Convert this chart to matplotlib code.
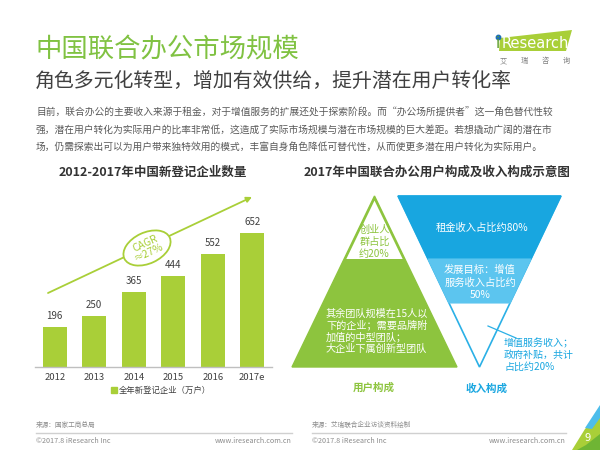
import matplotlib
matplotlib.use("Agg")
import matplotlib.pyplot as plt
from matplotlib.patches import Polygon, Ellipse
import numpy as np

plt.rcParams['font.family'] = ['Noto Sans CJK SC', 'DejaVu Sans']

# ---------------- data ----------------
years = ['2012', '2013', '2014', '2015', '2016', '2017e']
counts = [196, 250, 365, 444, 552, 652]
bar_legend = '全年新登记企业（万户）'
cagr_label = 'CAGR\n≈27%'

title = '中国联合办公市场规模'
subtitle = '角色多元化转型，增加有效供给，提升潜在用户转化率'
para = ['目前，联合办公的主要收入来源于租金，对于增值服务的扩展还处于探索阶段。而“办公场所提供者”这一角色替代性较',
        '强，潜在用户转化为实际用户的比率非常低，这造成了实际市场规模与潜在市场规模的巨大差距。若想撬动广阔的潜在市',
        '场，仍需探索出可以为用户带来独特效用的模式，丰富自身角色降低可替代性，从而使更多潜在用户转化为实际用户。']
left_title = '2012-2017年中国新登记企业数量'
right_title = '2017年中国联合办公用户构成及收入构成示意图'
user_top = ['创业人', '群占比', '约20%']
user_bottom = ['其余团队规模在15人以', '下的企业；需要品牌附', '加值的中型团队；', '大企业下属创新型团队']
rev_top = '租金收入占比约80%'
rev_mid = ['发展目标：增值', '服务收入占比约', '50%']
rev_low = ['增值服务收入；', '政府补贴，共计', '占比约20%']
user_label = '用户构成'
rev_label = '收入构成'
src_left = '来源：国家工商总局'
src_right = '来源：艾瑞联合企业访谈资料绘制'
copyright_txt = '©2017.8 iResearch Inc'
url_txt = 'www.iresearch.com.cn'
logo_cn = ['艾', '瑞', '咨', '询']

LIME = '#A9CF38'
TGREEN = '#80C242'
GREEN = '#8DC43E'
BLUE = '#18A6E0'
LBLUE = '#5CC5EF'
OBLUE = '#2BB0E6'

fig = plt.figure(figsize=(6, 4.5), dpi=100)
bg = fig.add_axes([0, 0, 1, 1])
bg.set_xlim(0, 600)
bg.set_ylim(450, 0)
bg.axis('off')
bg.set_zorder(0)

# ---------------- header ----------------
bg.text(35, 50, title, fontsize=19, color=TGREEN, va='center', ha='left')
bg.text(35, 82, subtitle, fontsize=14.3, color='#404040', va='center', ha='left')
for i, line in enumerate(para):
    bg.text(36, 113 + i * 17, line, fontsize=7, color='#595959', va='center', ha='left')

# logo
bg.add_patch(Polygon([(500, 38), (572, 30), (566, 51), (499, 51)], closed=True,
                     facecolor=LIME, edgecolor='none'))
bg.text(495.5, 43.5, 'i', fontsize=11, color='#5E9E2C', va='center', ha='left', family='DejaVu Sans')
bg.plot([497.6], [36.8], 'o', color='#1F6FB5', markersize=3.2)
bg.text(502, 43.5, 'Research', fontsize=10.5, color='white', va='center', ha='left', family='DejaVu Sans')
for i, ch in enumerate(logo_cn):
    bg.text(503 + i * 21, 61, ch, fontsize=5.2, color='#808080', va='center', ha='center')

# ---------------- left chart ----------------
bg.text(153, 172, left_title, fontsize=9, fontweight='bold', color='#333333', va='center', ha='center')

ax = fig.add_axes([35 / 600, (450 - 367) / 450, 237 / 600, 180 / 450])
ax.set_zorder(1)
ax.patch.set_alpha(0)
x = np.arange(len(years))
bars = ax.bar(x, counts, width=0.61, color=LIME, zorder=2)
ax.set_xlim(-0.5, 5.5)
ax.set_ylim(0, 876)
ax.bar_label(bars, labels=[str(c) for c in counts], padding=4, fontsize=7, color='#404040')
ax.set_xticks(x)
ax.set_xticklabels(years, fontsize=6.8, color='#404040')
ax.tick_params(axis='x', length=0, pad=4.5)
ax.set_yticks([])
for s in ['top', 'left', 'right']:
    ax.spines[s].set_visible(False)
ax.spines['bottom'].set_color('#BFBFBF')
ax.spines['bottom'].set_linewidth(1)

# CAGR arrow + ellipse
ax.annotate('', xy=(252, 197), xytext=(48, 293), xycoords=bg.transData, textcoords=bg.transData,
            arrowprops=dict(arrowstyle='-|>', color=LIME, lw=1.3, mutation_scale=8,
                            shrinkA=0, shrinkB=0), annotation_clip=False)
ax.add_patch(Ellipse((147, 248), 50, 31, angle=-25, facecolor='white', edgecolor=LIME,
                     lw=1.3, transform=bg.transData, clip_on=False, zorder=5))
ax.text(147, 248, cagr_label, transform=bg.transData, fontsize=7.5, color=LIME, rotation=25,
        ha='center', va='center', linespacing=0.95, zorder=6, clip_on=False)

# legend
bg.plot([114], [390], 's', color=LIME, markersize=4)
bg.text(119, 390, bar_legend, fontsize=6, color='#404040', va='center', ha='left')

# ---------------- right chart ----------------
bg.text(437, 172, right_title, fontsize=9, fontweight='bold', color='#333333', va='center', ha='center')

# green pyramid
apx, apy, by = 374.5, 196, 367
hw = 82.5
bg.add_patch(Polygon([(apx, apy), (apx + hw, by), (apx - hw, by)], closed=True,
                     facecolor=GREEN, edgecolor=GREEN, lw=1, zorder=2))
ycut = 259
slope = hw / (by - apy)
d = 2.0
ia = apy + d / np.sin(np.arctan(slope))
ihw = slope * (ycut - apy) - d * np.sqrt(1 + slope ** 2)
bg.add_patch(Polygon([(apx, ia), (apx + ihw, ycut), (apx - ihw, ycut)], closed=True,
                     facecolor='white', edgecolor='none', zorder=3))
for i, line in enumerate(user_top):
    bg.text(apx, 230 + i * 12, line, fontsize=7.3, color=GREEN, va='center', ha='center', zorder=4)
for i, line in enumerate(user_bottom):
    bg.text(326, 314 + i * 11.5, line, fontsize=7.3, color='white', va='center', ha='left', zorder=4)
bg.text(374, 388, user_label, fontsize=7.6, fontweight='bold', color=GREEN, va='center', ha='center')

# blue inverted pyramid
cx, ty, ay = 479.5, 196, 367
bhw = 81.5
def half_w(y):
    return bhw * (ay - y) / (ay - ty)
bg.add_patch(Polygon([(cx - bhw, ty), (cx + bhw, ty), (cx, ay)], closed=True,
                     facecolor='white', edgecolor=OBLUE, lw=1.2, zorder=2))
y1, y2 = 259, 303
bg.add_patch(Polygon([(cx - bhw, ty), (cx + bhw, ty), (cx + half_w(y1), y1), (cx - half_w(y1), y1)],
                     closed=True, facecolor=BLUE, edgecolor=BLUE, lw=0.8, zorder=3))
bg.add_patch(Polygon([(cx - half_w(y1), y1), (cx + half_w(y1), y1), (cx + half_w(y2), y2), (cx - half_w(y2), y2)],
                     closed=True, facecolor=LBLUE, edgecolor=LBLUE, lw=0.8, zorder=3))
bg.text(482, 228, rev_top, fontsize=7.4, color='white', va='center', ha='center', zorder=4)
for i, line in enumerate(rev_mid):
    bg.text(480, 270 + i * 12.5, line, fontsize=7.4, color='white', va='center', ha='center', zorder=4)
bg.plot([488, 516], [326, 338], color=OBLUE, lw=0.9, zorder=4)
for i, line in enumerate(rev_low):
    bg.text(504, 343 + i * 12, line, fontsize=7.2, color=BLUE, va='center', ha='left', zorder=4)
bg.text(487, 389, rev_label, fontsize=7.6, fontweight='bold', color=BLUE, va='center', ha='center')

# ---------------- footer ----------------
for (x0, x1, src) in [(36, 292, src_left), (312, 566, src_right)]:
    bg.text(x0, 425, src, fontsize=4.8, color='#8C8C8C', va='center', ha='left')
    bg.plot([x0, x1], [433, 433], color='#D0D0D0', lw=1)
    bg.text(x0, 441, copyright_txt, fontsize=5.2, color='#8C8C8C', va='center', ha='left')
    bg.text(x1, 441, url_txt, fontsize=5.2, color='#8C8C8C', va='center', ha='right')

# corner decoration
bg.add_patch(Polygon([(572, 450), (600, 450), (600, 414), (585, 429)], closed=True, facecolor='#A9CF38', edgecolor='none'))
bg.add_patch(Polygon([(585, 428), (600, 405), (600, 418), (592, 429)], closed=True, facecolor='#4DBDEB', edgecolor='none'))
bg.add_patch(Polygon([(577, 450), (600, 450), (600, 434), (586, 445)], closed=True, facecolor='#6FB534', edgecolor='none'))
bg.text(588, 438, '9', fontsize=8, color='white', va='center', ha='center')

fig.savefig('out.png', dpi=100)
